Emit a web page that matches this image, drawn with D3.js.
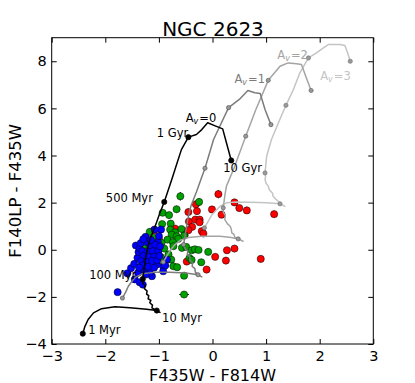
<!DOCTYPE html>
<html><head><meta charset="utf-8">
<script src="https://cdn.jsdelivr.net/npm/d3@7"></script>
<style>body{margin:0;background:#fff}svg{display:block}text{font-family:"DejaVu Sans",sans-serif}</style>
</head><body>
<svg id="c" width="415" height="383"></svg>
<script>
// ---- data ----
const title = "NGC 2623";
const xLabel = "F435W - F814W";
const yLabel = "F140LP - F435W";
const xTicks = [-3,-2,-1,0,1,2,3];
const yTicks = [-4,-2,0,2,4,6,8];

// clusters: [x, y, xerr, yerr]
const redPts = [
[0.11,2.36,0.03,0.17],[-0.45,1.60,0.03,0.15],[-0.29,1.64,0.03,0.15],[-0.01,1.71,0.03,0.13],
[0.41,2.01,0.03,0.14],[0.50,1.77,0.03,0.13],[0.64,1.67,0.03,0.15],[0.17,1.49,0.03,0.13],
[1.15,1.51,0.03,0.14],[-0.31,1.93,0.03,0.13],[-0.44,1.20,0.03,0.13],[-0.32,1.28,0.03,0.13],
[-0.24,1.28,0.03,0.13],[-0.24,1.17,0.03,0.12],[-0.38,0.97,0.03,0.12],[-0.45,0.83,0.03,0.12],
[-0.20,0.79,0.03,0.12],[-0.17,0.69,0.03,0.12],[-0.70,0.90,0.03,0.12],[-0.52,0.62,0.03,0.12],
[-1.09,0.83,0.03,0.13],[-1.00,0.47,0.03,0.12],[0.27,-0.02,0.03,0.14],[0.41,0.05,0.03,0.15],
[0.05,-0.30,0.03,0.12],[0.25,-0.46,0.03,0.14],[0.90,-0.39,0.03,0.14],[-0.11,-0.84,0.03,0.14],
[-0.48,-0.50,0.03,0.12]
];
const greenPts = [
[-0.60,2.27,0.03,0.18],[-0.25,2.03,0.03,0.16],[-0.67,1.72,0.03,0.15],[-0.93,1.57,0.03,0.14],
[-0.81,1.47,0.03,0.14],[-0.94,1.09,0.03,0.13],[-0.78,1.11,0.03,0.13],[-1.17,0.76,0.03,0.15],
[-0.58,0.88,0.03,0.13],[-0.79,0.86,0.03,0.13],[-0.70,0.74,0.03,0.12],[-0.76,0.64,0.03,0.12],
[-0.67,0.57,0.03,0.12],[-0.53,0.60,0.03,0.12],[-0.84,0.43,0.03,0.12],[-0.64,0.46,0.03,0.12],
[-0.74,0.32,0.03,0.12],[-0.95,0.29,0.03,0.12],[-1.10,0.50,0.03,0.12],[-0.57,0.08,0.03,0.12],
[-0.49,0.12,0.03,0.12],[-0.39,-0.02,0.03,0.12],[-0.33,0.02,0.03,0.12],[-0.26,-0.01,0.03,0.13],
[-0.08,-0.09,0.03,0.14],[-0.43,-0.35,0.03,0.12],[-0.39,-0.43,0.03,0.12],[-0.21,-0.53,0.03,0.13],
[-0.82,-0.20,0.03,0.12],[-0.96,-0.32,0.03,0.12],[-0.77,-0.42,0.03,0.12],[-0.90,-0.56,0.03,0.12],
[-0.73,-0.70,0.03,0.12],[-0.66,-0.74,0.03,0.12],[-0.53,-1.10,0.03,0.12],[-0.53,-1.90,0.09,0.15],
[-0.73,0.15,0.03,0.12],[-0.90,0.05,0.03,0.12],[-1.27,0.20,0.03,0.12]
];
const bluePts = [
[-1.77,-1.80,0.03,0.12],[-1.59,-1.00,0.03,0.12],[-1.52,-0.78,0.03,0.12],[-1.46,-0.60,0.03,0.12],
[-1.45,-1.26,0.03,0.12],[-1.36,-1.38,0.03,0.12],[-1.30,-1.48,0.03,0.12],[-1.43,0.18,0.03,0.14],
[-1.40,-0.34,0.03,0.12],[-1.38,-0.10,0.03,0.12],[-1.36,0.05,0.03,0.12],
[-1.25,0.55,0.03,0.14],[-1.02,0.34,0.03,0.12],[-0.96,0.86,0.03,0.12],[-1.08,0.86,0.03,0.12],
[-0.85,-0.42,0.03,0.12],[-0.92,-0.70,0.03,0.12],[-0.92,-0.91,0.03,0.12],[-1.13,-1.12,0.03,0.12],
[-1.04,-0.63,0.03,0.12],[-0.88,-0.67,0.03,0.12],[-1.17,-0.98,0.03,0.12],[-1.28,-0.86,0.03,0.12],
[-1.34,0.28,0.03,0.12],[-1.22,0.32,0.03,0.12],[-1.16,0.16,0.03,0.12],
[-1.07,0.22,0.03,0.12],[-1.31,-0.06,0.03,0.12],[-1.21,-0.08,0.03,0.12],[-1.11,-0.06,0.03,0.12],
[-1.01,-0.06,0.03,0.12],[-1.29,-0.26,0.03,0.12],[-1.19,-0.30,0.03,0.12],[-1.09,-0.30,0.03,0.12],
[-1.33,-0.48,0.03,0.12],[-1.23,-0.52,0.03,0.12],[-1.13,-0.48,0.03,0.12],[-1.03,-0.44,0.03,0.12],
[-1.30,-0.66,0.03,0.12],[-1.20,-0.72,0.03,0.12],[-1.09,-0.76,0.03,0.12],
[-1.29,0.45,0.03,0.12],[-1.15,0.42,0.03,0.12],[-1.00,0.58,0.03,0.12],
[-0.98,0.14,0.03,0.12],[-0.99,-0.26,0.03,0.12],[-1.24,-1.05,0.03,0.12],[-1.39,-0.98,0.03,0.12],
[-1.37,-0.76,0.03,0.12]
];

// model tracks
const trackAv0 = [
[-2.42,-3.56],[-2.38,-3.25],[-2.32,-2.96],[-2.22,-2.68],[-2.07,-2.50],[-1.82,-2.42],[-1.54,-2.46],
[-1.23,-2.53],[-1.04,-2.58],[-0.98,-2.66],[-1.04,-2.58],[-1.13,-2.47],[-1.12,-2.35],[-1.17,-2.25],
[-1.15,-2.15],[-1.20,-2.08],[-1.19,-1.95],[-1.23,-1.88],[-1.22,-1.75],[-1.27,-1.65],[-1.26,-1.52],
[-1.30,-1.42],[-1.30,-1.24],[-1.27,-0.70],[-1.23,-0.13],[-1.17,0.43],[-1.07,1.00],[-0.98,1.57],
[-0.90,2.03],[-0.76,2.98],[-0.67,3.62],[-0.58,4.25],[-0.45,4.78],[-0.30,4.89],[-0.20,5.10],
[-0.09,5.39],[0.05,5.26],[0.19,5.13],[0.26,4.54],[0.35,3.79]
];
const trackAv1 = [
[-1.68,-2.05],[-1.62,-1.80],[-1.57,-1.55],[-1.50,-1.33],[-1.43,-1.15],[-1.30,-1.02],[-1.10,-0.96],
[-0.80,-0.95],[-0.50,-0.99],[-0.27,-1.06],[-0.20,-1.15],[-0.27,-1.06],[-0.32,-0.95],[-0.33,-0.80],
[-0.38,-0.70],[-0.37,-0.55],[-0.42,-0.45],[-0.42,-0.30],[-0.47,-0.20],[-0.46,-0.05],[-0.51,0.05],
[-0.54,0.22],[-0.50,0.75],[-0.46,1.32],[-0.40,1.88],[-0.30,2.45],[-0.21,3.02],[-0.14,3.46],
[0.02,4.68],[0.30,6.03],[0.50,6.38],[0.66,6.76],[0.79,6.66],[0.89,6.63],[0.98,5.95],[1.09,5.31]
];
const trackAv2 = [
[-0.92,-0.52],[-0.85,-0.25],[-0.78,0.00],[-0.70,0.22],[-0.60,0.40],[-0.45,0.52],[-0.20,0.57],
[0.14,0.57],[0.35,0.52],[0.48,0.46],[0.57,0.36],[0.48,0.46],[0.42,0.52],[0.40,0.65],[0.36,0.72],
[0.35,0.88],[0.33,1.00],[0.28,1.10],[0.23,1.28],[0.24,1.45],[0.20,1.60],[0.20,1.78],[0.23,2.30],
[0.26,2.70],[0.39,3.40],[0.62,4.82],[0.80,5.90],[1.04,7.19],[1.26,7.79],[1.41,7.93],[1.57,7.89],
[1.66,7.86],[1.75,7.30],[1.84,6.76]
];
const trackAv3 = [
[-0.15,0.93],[-0.07,1.25],[-0.01,1.49],[0.14,1.85],[0.26,1.99],[0.45,2.03],[0.70,2.02],[1.01,1.99],
[1.26,1.95],[1.35,1.84],[1.26,1.95],[1.23,2.05],[1.18,2.15],[1.13,2.27],[1.12,2.40],[1.06,2.55],
[1.04,2.70],[1.00,2.82],[0.98,2.98],[0.99,3.10],[0.98,3.26],[1.01,3.97],[1.10,4.68],[1.23,5.39],
[1.37,6.13],[1.51,6.80],[1.63,7.51],[1.79,8.14],[1.94,8.36],[2.07,8.57],[2.16,8.71],[2.38,8.71],
[2.47,8.67],[2.52,8.36],[2.57,8.00]
];
// age markers (1 Myr, 10 Myr, 100 Myr, 500 Myr, 1 Gyr, 10 Gyr)
const agesAv0 = [[-2.42,-3.56],[-1.04,-2.58],[-1.30,-1.24],[-0.90,2.03],[-0.45,4.78],[0.35,3.79]];
const agesAv1 = [[-1.68,-2.05],[-0.27,-1.06],[-0.54,0.22],[-0.14,3.46],[0.30,6.03],[1.09,5.31]];
const agesAv2 = [[-0.92,-0.52],[0.48,0.46],[0.20,1.78],[0.62,4.82],[1.04,7.19],[1.84,6.76]];
const agesAv3 = [[-0.15,0.93],[1.26,1.95],[0.98,3.26],[1.37,6.13],[1.79,8.14],[2.57,8.00]];

// labels: [text, x, y] (left, baseline, data coords)
const ageLabels = [["1 Gyr",-1.04,4.78],["500 Myr",-1.99,2.02],["100 Myr",-2.30,-1.24],
  ["10 Myr",-0.94,-3.08],["1 Myr",-2.32,-3.57],["10 Gyr",0.20,3.29]];
const avLabels = [["0",-0.50,5.41],["1",0.41,7.08],["2",1.21,8.10],["3",2.01,7.22]];

// ---- drawing ----
const svg = d3.select("#c");
const L=51.7, R=373.3, T=37.7, B=344;
const x = d3.scaleLinear().domain([-3,3]).range([L,R]);
const y = d3.scaleLinear().domain([-4,9]).range([B,T]);

svg.append("text").attr("x",213).attr("y",35.5).attr("text-anchor","middle")
  .attr("font-size",20).text(title);

const plot = svg.append("g");
plot.append("defs").append("clipPath").attr("id","clip")
  .append("rect").attr("x",L).attr("y",T).attr("width",R-L).attr("height",B-T);
const g = plot.append("g").attr("clip-path","url(#clip)");

function drawPts(data,color){
  const s = g.append("g");
  data.forEach(d=>{
    s.append("line").attr("x1",x(d[0])).attr("x2",x(d[0])).attr("y1",y(d[1]-d[3])).attr("y2",y(d[1]+d[3]))
      .attr("stroke","#000").attr("stroke-width",1);
    s.append("line").attr("x1",x(d[0]-d[2])).attr("x2",x(d[0]+d[2])).attr("y1",y(d[1])).attr("y2",y(d[1]))
      .attr("stroke","#000").attr("stroke-width",1);
  });
  s.selectAll("circle").data(data).join("circle")
    .attr("cx",d=>x(d[0])).attr("cy",d=>y(d[1])).attr("r",3.6)
    .attr("fill",color).attr("stroke","#000").attr("stroke-width",0.5);
}
drawPts(redPts,"#ff0000");
drawPts(greenPts,"#00a000");
drawPts(bluePts,"#0000ff");

const line = d3.line().x(d=>x(d[0])).y(d=>y(d[1]));
const tracks = [
  [trackAv3,agesAv3,"#c4c4c4","#9a9a9a","#777"],
  [trackAv2,agesAv2,"#a4a4a4","#999","#666"],
  [trackAv1,agesAv1,"#7c7c7c","#999","#555"],
  [trackAv0,agesAv0,"#000","#000","#000"]
];
tracks.forEach(([t,a,c,fc,ec],i)=>{
  g.append("path").attr("d",line(t)).attr("fill","none").attr("stroke",c)
    .attr("stroke-width",1.5).attr("stroke-linejoin","round");
  g.selectAll(null).data(a).join("circle").attr("cx",d=>x(d[0])).attr("cy",d=>y(d[1]))
    .attr("r",i===3?2.6:2.1).attr("fill",fc).attr("stroke",ec).attr("stroke-width",0.7);
});

// labels
ageLabels.forEach(([t,lx,ly])=>{
  svg.append("text").attr("x",x(lx)).attr("y",y(ly)).attr("font-size",11.5).attr("fill","#000").text(t);
});
const avColors = ["#000","#7c7c7c","#a4a4a4","#c4c4c4"];
avLabels.forEach(([t,lx,ly],i)=>{
  const tx = svg.append("text").attr("x",x(lx)).attr("y",y(ly)).attr("font-size",11.5).attr("fill",avColors[i]);
  tx.append("tspan").text("A");
  tx.append("tspan").attr("font-size",8).attr("font-style","italic").attr("dy",2).text("v");
  tx.append("tspan").attr("dy",-2).attr("dx",1).text("="+t);
});

// axes
const fmt = d3.format("d");
svg.append("g").attr("transform",`translate(0,${B})`)
  .call(d3.axisBottom(x).tickValues(xTicks).tickFormat(fmt).tickSizeInner(-5).tickSizeOuter(0).tickPadding(7))
  .call(a=>{a.select(".domain").remove();a.selectAll("text").attr("font-size",14.5).attr("font-family","DejaVu Sans").attr("fill","#000");});
svg.append("g").attr("transform",`translate(0,${T})`)
  .call(d3.axisTop(x).tickValues(xTicks).tickFormat("").tickSizeInner(-5).tickSizeOuter(0))
  .call(a=>a.select(".domain").remove());
svg.append("g").attr("transform",`translate(${L},0)`)
  .call(d3.axisLeft(y).tickValues(yTicks).tickFormat(fmt).tickSizeInner(-5).tickSizeOuter(0).tickPadding(5))
  .call(a=>{a.select(".domain").remove();a.selectAll("text").attr("font-size",14.5).attr("font-family","DejaVu Sans").attr("fill","#000");});
svg.append("g").attr("transform",`translate(${R},0)`)
  .call(d3.axisRight(y).tickValues(yTicks).tickFormat("").tickSizeInner(-5).tickSizeOuter(0))
  .call(a=>a.select(".domain").remove());
svg.selectAll(".tick line").attr("stroke","#000");

svg.append("rect").attr("x",L).attr("y",T).attr("width",R-L).attr("height",B-T)
  .attr("fill","none").attr("stroke","#000").attr("stroke-width",1);

svg.append("text").attr("x",(L+R)/2).attr("y",380.5).attr("text-anchor","middle")
  .attr("font-size",16).text(xLabel);
svg.append("text").attr("transform",`translate(20.5,${(T+B)/2}) rotate(-90)`).attr("text-anchor","middle")
  .attr("font-size",16.5).text(yLabel);
</script>
</body></html>
